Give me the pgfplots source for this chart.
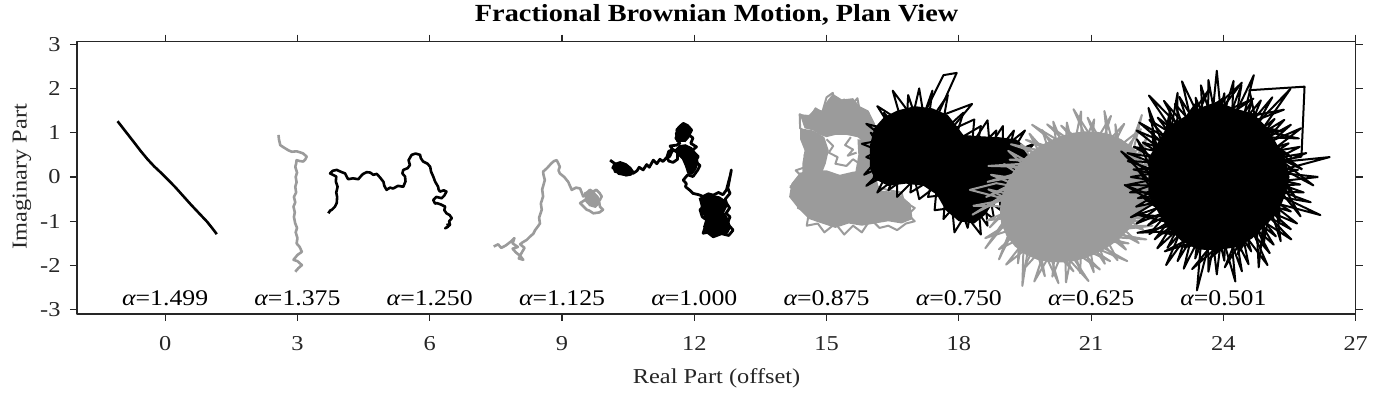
\documentclass[border=0pt]{standalone}
\usepackage{fontspec}
\setmainfont{Liberation Serif}[FakeStretch=1.15]
\usepackage{pgfplots}
\pgfplotsset{compat=1.18}
\definecolor{axc}{RGB}{38,38,38}
\definecolor{pg}{RGB}{155,155,155}
\newcommand{\al}[1]{{\itshape α}=#1}
\begin{document}
\begin{tikzpicture}
\useasboundingbox (0,0) rectangle (689pt,200pt);
\begin{axis}[at={(38.5pt,43pt)}, anchor=south west, scale only axis,
  width=639.35pt, height=136.15pt,
  xmin=-2, xmax=27, ymin=-3.094, ymax=3.056,
  xtick={0,3,6,9,12,15,18,21,24,27}, ytick={-3,-2,-1,0,1,2,3},
  tick align=outside, major tick length=3.5pt,
  axis line style={axc, line width=0.6pt},
  tick style={axc, line width=0.6pt},
  tick label style={font=\fontsize{10.6}{12}\selectfont, text=axc},
  /pgf/number format/assume math mode=true,
  xticklabel style={yshift=-4pt},
  yticklabel style={xshift=-1.2pt},
  no markers, line join=round]
% alpha = 1.499
\addplot[black, line width=1.3pt] coordinates {(-1.08,1.26) (-0.90,1.03) (-0.72,0.80) (-0.55,0.58) (-0.40,0.40) (-0.25,0.24) (-0.10,0.10) (0.05,-0.05) (0.22,-0.22) (0.40,-0.42) (0.58,-0.62) (0.76,-0.81) (0.95,-1.01) (1.07,-1.16) (1.17,-1.29)};
% alpha = 1.375
\addplot[pg, line width=1.3pt] coordinates {(2.57,0.95) (2.58,0.85) (2.61,0.72) (2.70,0.66) (2.80,0.60) (2.87,0.57) (2.98,0.58) (3.08,0.55) (3.13,0.53) (3.21,0.46) (3.18,0.40) (3.13,0.35) (3.05,0.36) (2.98,0.38) (2.97,0.30) (2.95,0.23) (2.99,0.10) (2.96,0.00) (2.98,-0.12) (2.95,-0.22) (2.97,-0.35) (2.92,-0.45) (2.95,-0.57) (2.91,-0.67) (2.94,-0.80) (2.92,-0.90) (2.95,-1.05) (2.99,-1.15) (2.96,-1.25) (3.00,-1.38) (2.98,-1.50) (3.05,-1.58) (3.10,-1.69) (3.00,-1.76) (2.91,-1.87) (3.00,-1.90) (3.10,-1.99) (3.02,-2.06) (2.95,-2.14)};
% alpha = 1.250
\addplot[black, line width=1.3pt] coordinates {(3.70,-0.82) (3.74,-0.76) (3.78,-0.74) (3.82,-0.70) (3.85,-0.67) (3.89,-0.59) (3.90,-0.45) (3.88,-0.35) (3.91,-0.22) (3.87,-0.10) (3.88,0.01) (3.80,0.05) (3.74,0.08) (3.80,0.14) (3.89,0.16) (3.98,0.12) (4.08,0.08) (4.12,0.00) (4.15,-0.05) (4.26,-0.03) (4.38,-0.05) (4.44,0.02) (4.49,0.07) (4.57,0.11) (4.65,0.10) (4.72,0.05) (4.80,0.07) (4.88,-0.02) (4.95,-0.11) (4.97,-0.20) (5.02,-0.29) (5.10,-0.24) (5.17,-0.26) (5.28,-0.20) (5.40,-0.22) (5.45,-0.10) (5.44,0.01) (5.38,0.08) (5.40,0.16) (5.50,0.20) (5.55,0.27) (5.52,0.38) (5.59,0.50) (5.68,0.53) (5.78,0.50) (5.80,0.42) (5.85,0.35) (5.95,0.30) (6.01,0.23) (6.03,0.12) (6.08,0.01) (6.12,-0.10) (6.19,-0.22) (6.20,-0.28) (6.23,-0.33) (6.32,-0.30) (6.38,-0.33) (6.33,-0.42) (6.27,-0.48) (6.15,-0.45) (6.08,-0.52) (6.12,-0.60) (6.16,-0.59) (6.25,-0.62) (6.35,-0.67) (6.33,-0.75) (6.38,-0.82) (6.45,-0.86) (6.50,-0.93) (6.44,-1.00) (6.46,-1.08) (6.38,-1.14) (6.35,-1.16) (6.42,-1.12) (6.40,-1.05)};
% alpha = 1.125
\addplot[fill=pg, draw=none] coordinates {(9.50,-0.35) (9.62,-0.30) (9.74,-0.34) (9.84,-0.45) (9.86,-0.60) (9.76,-0.70) (9.62,-0.66) (9.52,-0.55)};
\addplot[pg, line width=1.3pt] coordinates {(7.45,-1.57) (7.55,-1.52) (7.62,-1.60) (7.72,-1.55) (7.85,-1.45) (7.92,-1.38) (7.88,-1.50) (8.00,-1.58) (7.88,-1.62) (7.95,-1.70) (8.05,-1.78) (8.12,-1.87) (8.02,-1.84) (8.08,-1.72) (8.15,-1.60) (8.05,-1.52) (8.10,-1.48) (8.20,-1.42) (8.27,-1.35) (8.35,-1.28) (8.39,-1.20) (8.45,-1.12) (8.50,-1.05) (8.48,-0.92) (8.54,-0.74) (8.52,-0.60) (8.57,-0.44) (8.55,-0.28) (8.61,-0.07) (8.58,0.05) (8.57,0.12) (8.66,0.20) (8.76,0.31) (8.82,0.36) (8.88,0.38) (8.92,0.30) (8.95,0.23) (8.92,0.15) (8.95,0.08) (9.05,0.00) (9.14,-0.11) (9.18,-0.20) (9.22,-0.29) (9.32,-0.24) (9.41,-0.26) (9.45,-0.36) (9.48,-0.44) (9.56,-0.36) (9.63,-0.29) (9.70,-0.33) (9.78,-0.29) (9.85,-0.36) (9.90,-0.44) (9.84,-0.55) (9.86,-0.67) (9.93,-0.74) (9.85,-0.80) (9.71,-0.82) (9.62,-0.76) (9.56,-0.74) (9.48,-0.66) (9.41,-0.59) (9.52,-0.52) (9.66,-0.48) (9.75,-0.58)};
% alpha = 1.000
\addplot[fill=black, draw=none] coordinates {(10.14,0.22) (10.20,0.32) (10.32,0.36) (10.46,0.31) (10.57,0.22) (10.64,0.12) (10.57,0.03) (10.45,0.01) (10.31,0.06) (10.18,0.10)};
\addplot[fill=black, draw=none] coordinates {(11.66,0.72) (11.80,0.74) (11.95,0.67) (12.06,0.51) (12.10,0.32) (12.04,0.16) (11.95,0.05) (11.84,0.08) (11.79,0.24) (11.72,0.40) (11.60,0.52) (11.56,0.62)};
\addplot[fill=black, draw=none] coordinates {(11.59,0.80) (11.56,0.98) (11.62,1.13) (11.73,1.21) (11.86,1.17) (11.92,1.04) (11.89,0.89) (11.80,0.79)};
\addplot[fill=black, draw=none] coordinates {(12.10,-0.48) (12.22,-0.42) (12.40,-0.40) (12.58,-0.44) (12.71,-0.53) (12.75,-0.66) (12.68,-0.80) (12.78,-0.95) (12.83,-1.14) (12.76,-1.28) (12.60,-1.30) (12.40,-1.32) (12.26,-1.26) (12.20,-1.12) (12.26,-0.95) (12.16,-0.80) (12.14,-0.63)};
\addplot[black, line width=1.4pt] coordinates {(10.09,0.38) (10.20,0.30) (10.15,0.20) (10.30,0.25) (10.38,0.15) (10.28,0.08) (10.45,0.05) (10.52,0.18) (10.58,0.10) (10.61,0.08) (10.70,0.14) (10.75,0.22) (10.84,0.16) (10.92,0.28) (10.98,0.22) (11.07,0.38) (11.15,0.30) (11.22,0.40) (11.29,0.35) (11.38,0.45) (11.42,0.58) (11.52,0.62) (11.62,0.55) (11.62,0.40) (11.52,0.33) (11.42,0.36) (11.38,0.45) (11.44,0.46) (11.48,0.55) (11.52,0.61) (11.45,0.70) (11.60,0.72) (11.67,0.76) (11.58,0.88) (11.65,0.98) (11.60,1.06) (11.68,1.15) (11.75,1.21) (11.85,1.16) (11.94,1.06) (11.88,0.95) (11.97,0.88) (11.92,0.76) (12.05,0.68) (11.95,0.60) (12.09,0.46) (12.02,0.35) (12.13,0.26) (12.08,0.16) (11.97,0.01) (11.85,0.05) (11.75,-0.07) (11.82,-0.15) (11.80,-0.22) (11.90,-0.30) (11.97,-0.37) (12.10,-0.40) (12.20,-0.44) (12.32,-0.38) (12.43,-0.41) (12.55,-0.35) (12.65,-0.40) (12.73,-0.29) (12.78,-0.10) (12.82,0.05) (12.84,0.16) (12.80,-0.05) (12.76,-0.25) (12.81,-0.37) (12.70,-0.50) (12.73,-0.59) (12.80,-0.70) (12.72,-0.82) (12.81,-0.90) (12.75,-1.05) (12.88,-1.20) (12.78,-1.32) (12.62,-1.28) (12.43,-1.35) (12.30,-1.25) (12.20,-1.27) (12.25,-1.12) (12.28,-0.97) (12.18,-0.90) (12.13,-0.74) (12.22,-0.65) (12.28,-0.59) (12.40,-0.62) (12.50,-0.75) (12.45,-0.90) (12.60,-1.00) (12.55,-1.15)};
% alpha = 0.875 (gray)
\addplot[fill=pg, draw=none] coordinates {(14.39,1.42) (14.6,1.4) (14.75,1.55) (14.9,1.5) (15.0,1.7) (15.14,1.88) (15.35,1.75) (15.6,1.78) (15.75,1.6) (15.95,1.5) (16.1,1.2) (16.1,0.8) (15.9,0.75) (15.7,0.9) (15.45,0.95) (15.2,0.95) (15.0,0.9) (14.85,0.95) (14.7,1.05) (14.5,1.1)};
\addplot[fill=pg, draw=none] coordinates {(14.4,1.1) (14.7,1.05) (14.95,0.9) (15.05,0.6) (14.98,0.3) (14.9,0.1) (14.45,0.05) (14.45,0.3) (14.5,0.6) (14.4,0.85)};
\addplot[fill=pg, draw=none] coordinates {(15.7,0.85) (16.1,0.85) (16.1,0.0) (15.65,0.1) (15.72,0.5)};
\addplot[fill=pg, draw=none] coordinates {(14.15,-0.45) (14.2,-0.15) (14.4,0.1) (14.7,0.15) (15.0,0.15) (15.3,0.05) (15.6,0.12) (15.85,0.15) (16.1,0.1) (16.2,-0.3) (16.6,-0.35) (16.9,-0.6) (16.95,-0.95) (16.7,-1.05) (16.4,-1.0) (16.1,-1.05) (15.8,-1.1) (15.5,-1.05) (15.2,-1.15) (14.9,-1.05) (14.6,-0.95) (14.35,-0.7)};
\addplot[pg, line width=1.0pt] coordinates {(14.17,-0.22) (14.5,-0.05) (14.3,0.15) (14.6,0.25) (14.5,0.5) (14.7,0.45) (14.55,0.7) (14.62,0.95) (14.4,1.1) (14.39,1.42) (14.6,1.3) (14.75,1.55) (14.9,1.45) (15.0,1.8) (15.14,1.9) (15.2,1.65) (15.4,1.75) (15.5,1.55) (15.7,1.78) (15.75,1.5) (15.95,1.45) (15.85,1.2) (16.05,1.05) (15.9,0.85) (16.0,0.6) (15.8,0.55) (15.95,0.35) (16.15,0.1) (16.1,-0.2) (16.4,-0.3) (16.7,-0.35) (16.75,-0.55) (17.0,-0.7) (16.85,-0.85) (17.0,-1.0) (16.8,-1.05) (16.6,-1.2) (16.4,-1.1) (16.2,-1.15) (16.0,-0.95) (15.8,-1.25) (15.6,-1.1) (15.4,-1.3) (15.2,-1.05) (14.95,-1.25) (14.8,-1.05) (14.55,-1.1) (14.6,-0.8) (14.35,-0.7) (14.5,-0.45) (14.17,-0.22)};
\addplot[pg, line width=1.0pt] coordinates {(15.0,0.85) (15.15,0.7) (15.05,0.55) (15.25,0.45) (15.2,0.3) (15.45,0.25) (15.6,0.4) (15.75,0.3)};
\addplot[pg, line width=1.0pt] coordinates {(15.55,0.9) (15.42,0.72) (15.6,0.62) (15.48,0.48) (15.68,0.55)};
% alpha = 0.750 (black)
\addplot[fill=black, draw=none] coordinates {(15.98,0.2) (15.98,0.7) (16.08,1.1) (16.3,1.35) (16.6,1.5) (17.0,1.6) (17.4,1.55) (17.75,1.4) (17.95,1.15) (18.1,0.95) (18.5,0.92) (18.9,0.9) (19.3,0.85) (19.55,0.65) (19.6,0.3) (19.5,-0.1) (19.2,-0.35) (18.8,-0.55) (18.6,-0.85) (18.35,-1.05) (18.0,-1.0) (17.7,-0.75) (17.5,-0.4) (17.2,-0.2) (16.8,-0.15) (16.4,-0.2) (16.1,-0.05)};
\addplot[black, line width=1.0pt] coordinates {(16.4,0.3) (15.85,0.05) (16.3,0.55) (15.8,0.75) (16.35,0.85) (15.9,1.2) (16.5,1.05) (16.15,1.6) (16.7,1.25) (16.5,1.95) (16.95,1.35) (17.1,2.0) (17.2,1.4) (17.65,2.3) (17.95,2.35) (17.5,1.35) (18.3,1.65) (17.8,1.05) (18.35,1.3) (18.3,0.75) (18.65,1.28) (18.7,0.7) (19.0,1.15) (19.0,0.65) (19.5,1.05) (19.2,0.55) (19.7,0.75) (19.3,0.3) (19.72,0.25) (19.25,0.0) (19.6,-0.25) (19.0,-0.2) (19.1,-0.6) (18.7,-0.4) (18.8,-0.95) (18.45,-0.7) (18.5,-1.3) (18.15,-0.85) (17.9,-1.25) (17.85,-0.7) (17.45,-0.75) (17.5,-0.2) (17.1,-0.5) (17.0,-0.05) (16.6,-0.45) (16.6,0.0) (16.15,-0.35) (16.35,0.05) (15.9,-0.2) (16.4,0.3)};
\addplot[black, line width=1.0pt] coordinates {(16.2,0.6) (15.9,0.45) (16.5,0.2) (16.0,1.0) (16.6,0.7) (16.3,1.45) (16.8,0.9) (16.85,1.85) (17.1,1.1) (17.4,1.95) (17.3,1.2) (17.75,1.85) (17.6,1.0) (18.1,1.45) (17.9,0.8) (18.5,1.15) (18.4,0.6) (18.85,1.05) (18.8,0.5) (19.25,1.05) (19.1,0.45) (19.55,0.55) (19.3,0.1) (19.65,-0.05) (19.2,-0.15) (19.35,-0.45) (18.9,-0.3) (18.95,-0.75) (18.6,-0.5) (18.65,-1.1) (18.3,-0.6) (18.2,-1.15) (18.0,-0.55) (17.65,-0.95) (17.7,-0.4) (17.3,-0.45) (17.4,-0.05) (16.9,-0.35) (16.95,0.1) (16.4,-0.3) (16.6,0.2) (16.05,-0.1) (16.2,0.6)};
% alpha = 0.625 (gray)
\addplot[fill=pg, draw=none] coordinates {(22.23,-0.45) (22.27,-0.16) (22.24,0.15) (22.12,0.43) (21.94,0.67) (21.69,0.85) (21.42,0.97) (21.14,1.02) (20.86,1.03) (20.60,1.00) (20.36,0.94) (20.13,0.85) (19.91,0.74) (19.71,0.61) (19.52,0.46) (19.35,0.27) (19.19,0.06) (19.06,-0.18) (18.97,-0.45) (18.93,-0.75) (18.96,-1.05) (19.08,-1.33) (19.27,-1.57) (19.51,-1.75) (19.78,-1.87) (20.06,-1.92) (20.34,-1.93) (20.60,-1.90) (20.85,-1.84) (21.07,-1.75) (21.29,-1.64) (21.49,-1.51) (21.68,-1.36) (21.86,-1.18) (22.01,-0.96) (22.14,-0.72)};
\addplot[pg, line width=1.0pt] coordinates {(21.80,-0.45) (22.69,-0.27) (21.83,-0.24) (22.52,0.07) (21.81,-0.01) (22.68,0.52) (21.72,0.20) (22.26,0.71) (21.59,0.38) (22.13,1.08) (21.40,0.51) (21.75,1.20) (21.20,0.60) (21.45,1.38) (21.00,0.63) (21.07,1.30) (20.79,0.64) (20.77,1.48) (20.60,0.62) (20.45,1.23) (20.42,0.57) (20.14,1.25) (20.25,0.51) (19.89,1.06) (20.09,0.43) (19.60,0.98) (19.94,0.33) (19.41,0.74) (19.80,0.22) (19.12,0.59) (19.68,0.08) (19.02,0.29) (19.56,-0.07) (18.73,0.05) (19.46,-0.25) (18.85,-0.14) (18.25,-0.29) (19.15,-0.52) (18.67,-0.28) (19.40,-0.45) (18.33,-0.65) (19.37,-0.67) (18.64,-0.98) (19.39,-0.89) (18.60,-1.38) (19.48,-1.10) (18.91,-1.63) (19.62,-1.28) (19.07,-1.98) (19.80,-1.41) (19.45,-2.10) (20.00,-1.50) (19.71,-2.36) (20.20,-1.53) (20.12,-2.25) (20.41,-1.54) (20.43,-2.38) (20.60,-1.52) (20.75,-2.17) (20.78,-1.47) (21.06,-2.15) (20.95,-1.41) (21.31,-1.96) (21.11,-1.33) (21.60,-1.88) (21.26,-1.23) (21.79,-1.64) (21.40,-1.12) (22.08,-1.49) (21.53,-0.99) (22.18,-1.19) (21.64,-0.83) (22.47,-0.95) (21.74,-0.65) (22.53,-0.62) (21.80,-0.45)};
\addplot[pg, line width=1.0pt] coordinates {(22.75,-0.45) (21.64,-0.83) (22.53,-0.11) (21.74,-0.65) (22.84,0.37) (21.80,-0.45) (22.44,0.61) (21.83,-0.24) (22.29,0.96) (21.81,-0.01) (22.15,1.40) (21.72,0.20) (21.55,1.19) (21.59,0.38) (21.30,1.49) (21.40,0.51) (20.92,1.34) (21.20,0.60) (20.60,1.53) (21.00,0.63) (20.32,1.16) (20.79,0.64) (20.00,1.19) (20.60,0.62) (19.66,1.18) (20.42,0.57) (19.52,0.84) (20.25,0.51) (19.18,0.74) (20.09,0.43) (19.15,0.39) (19.94,0.33) (18.67,0.25) (19.80,0.22) (18.65,-0.11) (19.68,0.08) (18.62,-0.45) (19.56,-0.07) (18.31,-0.85) (19.46,-0.25) (18.70,-1.14) (19.40,-0.45) (18.60,-1.61) (19.37,-0.67) (18.91,-1.86) (19.39,-0.89) (19.34,-1.95) (19.48,-1.10) (19.44,-2.46) (19.62,-1.28) (19.95,-2.24) (19.80,-1.41) (20.26,-2.40) (20.00,-1.50) (20.60,-2.13) (20.20,-1.53) (20.94,-2.35) (20.41,-1.54) (21.20,-2.09) (20.60,-1.52) (21.43,-1.90) (20.78,-1.47) (21.82,-1.90) (20.95,-1.41) (21.85,-1.50) (21.11,-1.33) (22.25,-1.41) (21.26,-1.23) (22.39,-1.10) (21.40,-1.12) (22.79,-0.84) (21.53,-0.99) (22.75,-0.45)};
% alpha = 0.501 (black)
\addplot[fill=black, draw=none] coordinates {(25.50,0.00) (25.40,0.41) (25.19,0.78) (24.98,1.13) (24.68,1.43) (24.26,1.55) (23.85,1.70) (23.44,1.55) (23.08,1.34) (22.72,1.13) (22.51,0.78) (22.30,0.41) (22.30,0.00) (22.30,-0.41) (22.51,-0.78) (22.72,-1.13) (23.03,-1.43) (23.41,-1.64) (23.85,-1.65) (24.28,-1.59) (24.65,-1.39) (24.95,-1.10) (25.24,-0.80) (25.40,-0.41)};
\addplot[black, line width=1.0pt] coordinates {(26.15,0.00) (25.14,0.11) (26.41,0.45) (25.01,0.31) (25.73,0.68) (25.07,0.57) (25.76,1.10) (24.87,0.72) (25.38,1.29) (24.77,0.92) (25.52,1.99) (24.54,0.98) (24.85,1.73) (24.42,1.22) (24.69,2.30) (24.19,1.26) (24.23,2.17) (23.96,1.25) (23.85,2.40) (23.74,1.29) (23.49,2.07) (23.54,1.16) (23.06,2.16) (23.28,1.22) (22.90,1.65) (23.13,1.02) (22.31,1.84) (22.93,0.92) (22.32,1.29) (22.87,0.69) (22.03,1.05) (22.67,0.55) (21.97,0.68) (22.64,0.32) (21.83,0.36) (22.56,0.11) (21.90,0.00) (22.60,-0.11) (21.88,-0.35) (22.59,-0.34) (22.02,-0.67) (22.76,-0.51) (22.03,-1.05) (22.79,-0.75) (22.32,-1.29) (22.97,-0.88) (22.50,-1.61) (23.10,-1.06) (22.70,-1.99) (23.34,-1.09) (23.10,-2.07) (23.51,-1.26) (23.40,-2.56) (23.74,-1.25) (23.85,-2.20) (23.96,-1.29) (24.27,-2.36) (24.16,-1.16) (24.57,-1.97) (24.42,-1.22) (25.00,-1.99) (24.57,-1.02) (25.14,-1.53) (24.77,-0.92) (25.54,-1.41) (24.83,-0.69) (25.67,-1.05) (25.03,-0.55) (26.20,-0.86) (25.06,-0.32) (25.82,-0.35) (25.14,-0.11) (26.15,0.00)};
\addplot[black, line width=1.0pt] coordinates {(25.00,0.00) (25.69,0.16) (24.98,0.20) (25.88,0.54) (24.93,0.39) (25.48,0.76) (24.85,0.58) (25.53,1.18) (24.73,0.74) (25.16,1.31) (24.59,0.88) (25.11,1.80) (24.43,1.00) (24.65,1.72) (24.24,1.08) (24.41,2.08) (24.05,1.13) (24.02,1.89) (23.85,1.15) (23.66,2.19) (23.65,1.13) (23.37,1.79) (23.46,1.08) (23.00,1.81) (23.27,1.00) (22.65,1.72) (23.11,0.88) (22.51,1.34) (22.97,0.74) (22.09,1.23) (22.85,0.58) (22.17,0.78) (22.77,0.39) (21.82,0.54) (22.72,0.20) (21.96,0.17) (22.70,0.00) (21.81,-0.18) (22.72,-0.20) (22.06,-0.48) (22.77,-0.39) (21.90,-0.91) (22.85,-0.58) (22.29,-1.09) (22.97,-0.74) (22.44,-1.41) (23.11,-0.88) (22.73,-1.60) (23.27,-1.00) (22.96,-1.90) (23.46,-1.08) (23.36,-1.84) (23.65,-1.13) (23.66,-2.14) (23.85,-1.15) (24.02,-1.89) (24.05,-1.13) (24.42,-2.13) (24.24,-1.08) (24.63,-1.68) (24.43,-1.00) (25.05,-1.72) (24.59,-0.88) (25.19,-1.34) (24.73,-0.74) (25.53,-1.18) (24.85,-0.58) (25.53,-0.78) (24.93,-0.39) (25.98,-0.57) (24.98,-0.20) (25.74,-0.17) (25.00,0.00) (24.59,1.96) (25.84,2.04) (25.77,0.46) (24.90,0.30)};
\addplot[black, line width=1.0pt] coordinates {(25.79,0.17) (25.06,0.70) (25.54,0.45) (24.92,0.90) (25.71,0.87) (24.75,1.07) (25.32,1.03) (24.55,1.21) (25.37,1.52) (24.33,1.32) (24.86,1.43) (24.09,1.38) (24.68,1.77) (23.85,1.40) (24.42,2.13) (23.61,1.38) (24.01,1.79) (23.37,1.32) (23.68,1.99) (23.15,1.21) (23.40,1.69) (22.95,1.07) (22.96,1.90) (22.78,0.90) (22.79,1.52) (22.64,0.70) (22.30,1.56) (22.53,0.48) (22.38,1.03) (22.47,0.24) (22.04,0.85) (22.45,0.00) (21.68,0.58) (22.47,-0.24) (22.06,0.16) (22.53,-0.48) (21.76,-0.18) (22.64,-0.70) (22.16,-0.45) (22.78,-0.90) (22.04,-0.85) (22.95,-1.07) (22.05,-1.26) (23.15,-1.21) (22.58,-1.27) (23.37,-1.32) (22.67,-1.68) (23.61,-1.38) (23.11,-1.59) (23.85,-1.40) (23.29,-2.08) (24.09,-1.38) (23.69,-1.84) (24.33,-1.32) (24.03,-2.04) (24.55,-1.21) (24.32,-1.74) (24.75,-1.07) (24.80,-2.04) (24.92,-0.90) (24.91,-1.52) (25.06,-0.70) (25.30,-1.45) (25.17,-0.48) (25.28,-1.00) (25.23,-0.24) (25.75,-0.89) (25.25,0.00) (25.64,-0.48) (25.23,0.24) (26.04,-0.19) (25.17,0.48) (25.79,0.17)};
% labels
\begin{scope}[every node/.style={anchor=base, font=\fontsize{11.2}{13}\selectfont}]
\node at (axis cs:0,-2.91) {\al{1.499}};
\node at (axis cs:3,-2.91) {\al{1.375}};
\node at (axis cs:6,-2.91) {\al{1.250}};
\node at (axis cs:9,-2.91) {\al{1.125}};
\node at (axis cs:12,-2.91) {\al{1.000}};
\node at (axis cs:15,-2.91) {\al{0.875}};
\node at (axis cs:18,-2.91) {\al{0.750}};
\node at (axis cs:21,-2.91) {\al{0.625}};
\node at (axis cs:24,-2.91) {\al{0.501}};
\end{scope}
\end{axis}
\node[anchor=base, font=\bfseries\fontsize{12.3}{14}\selectfont] at (358.3pt,189pt) {Fractional Brownian Motion, Plan View};
\node[anchor=base, text=axc, font=\fontsize{10.6}{12}\selectfont] at (358.3pt,8pt) {Real Part (offset)};
\node[anchor=base, rotate=90, text=axc, font=\fontsize{10.6}{12}\selectfont] at (13.35pt,111.6pt) {Imaginary Part};
\end{tikzpicture}
\end{document}
